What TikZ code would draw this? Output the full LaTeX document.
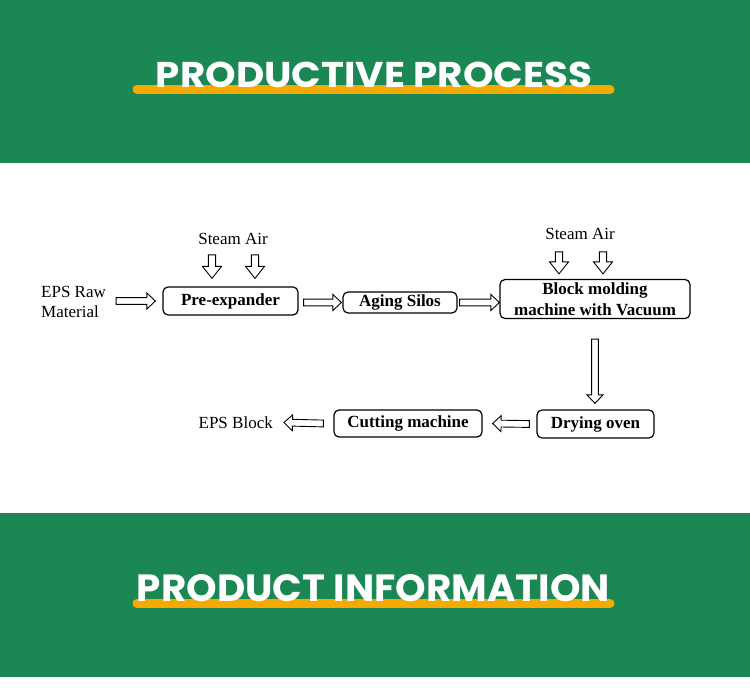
\documentclass[tikz,border=0pt]{standalone}
\usepackage{fontspec}
\setmainfont{Liberation Serif}
\newfontfamily\titlefont{Poppins}
\usetikzlibrary{calc}
\definecolor{bandgreen}{HTML}{1B8755}
\definecolor{barorange}{HTML}{F6AA00}
\tikzset{
  hollow/.style n args={3}{line width=0.9pt, line join=miter, to path={
    let \p1=(\tikztostart), \p2=(\tikztotarget),
        \n1={veclen(\x2-\x1,\y2-\y1)},
        \n2={(\x2-\x1)/\n1}, \n3={(\y2-\y1)/\n1}
    in
    ({\x1-\n3*#1}, {\y1+\n2*#1})
    -- ({\x2-\n2*#3-\n3*#1}, {\y2-\n3*#3+\n2*#1})
    -- ({\x2-\n2*#3-\n3*#2}, {\y2-\n3*#3+\n2*#2})
    -- (\p2)
    -- ({\x2-\n2*#3+\n3*#2}, {\y2-\n3*#3-\n2*#2})
    -- ({\x2-\n2*#3+\n3*#1}, {\y2-\n3*#3-\n2*#1})
    -- ({\x1+\n3*#1}, {\y1-\n2*#1})
    -- cycle
  }},
  flowarr/.style={hollow={3.4pt}{8pt}{8.5pt}},
  steamarr/.style={hollow={3.6pt}{9.5pt}{12pt}},
  stepbox/.style={draw, line width=1.2pt, rounded corners=5pt, inner sep=0pt,
    font=\fontsize{17}{21}\selectfont\bfseries, align=center},
  plain/.style={inner sep=0pt, font=\fontsize{17}{20}\selectfont},
  titletext/.style={inner sep=0pt, text=white},
  bar/.style={line width=9pt, line cap=round, draw=barorange}
}
\begin{document}
\begin{tikzpicture}[x=1pt,y=-1pt]
\useasboundingbox (0,0) rectangle (750,700);
\fill[white] (0,0) rectangle (750,700);
\fill[bandgreen] (0,0) rectangle (750,163);
\fill[bandgreen] (0,513) rectangle (750,677);

% titles
\draw[bar] (137,89.5) -- (610,89.5);
\node[titletext] (t1) at (374,74.5) {\resizebox{436pt}{25.5pt}{\titlefont\bfseries PRODUCTIVE PROCESS}};
\draw[bar] (137,603.5) -- (610,603.5);
\node[titletext] (t2) at (373.5,588.5) {\resizebox{473pt}{27pt}{\titlefont\bfseries PRODUCT INFORMATION}};

% nodes
\node[plain, align=left, anchor=west] (raw) at (41,302) {EPS Raw\\Material};
\node[stepbox, minimum width=135pt, minimum height=28pt] (pre) at (230.5,301) {Pre-expander};
\node[stepbox, minimum width=114pt, minimum height=21pt] (silos) at (400,302.5) {Aging Silos};
\node[stepbox, minimum width=190pt, minimum height=39pt] (block) at (595,299) {Block molding\\machine with Vacuum};
\node[stepbox, minimum width=117pt, minimum height=28pt] (dry) at (595.5,424) {Drying oven};
\node[stepbox, minimum width=148pt, minimum height=27pt] (cut) at (408,423.5) {Cutting machine};
\node[plain, anchor=east] (epsblock) at (273,422.5) {EPS Block};
\node[plain] (steam1) at (233,239) {Steam Air};
\node[plain] (steam2) at (580,234) {Steam Air};

% flow arrows
\draw[flowarr] ([xshift=10pt]raw.east |- pre.west) to ([xshift=-7pt]pre.west);
\draw[flowarr] ([xshift=5pt]pre.east |- silos.west) to ([xshift=-1pt]silos.west);
\draw[flowarr] ([xshift=2pt]silos.east) to ([xshift=0pt]silos.east -| block.west);
\draw[flowarr] ([yshift=-20pt]block.south) to ([yshift=6pt]block.south |- dry.north);
\draw[flowarr] ([xshift=-7pt]dry.west) to ([xshift=10pt]cut.east);
\draw[flowarr] ([xshift=-10pt]cut.west) to ([xshift=11pt]epsblock.east);

% steam arrows
\draw[steamarr] ([xshift=-21pt,yshift=-10pt]steam1.south) to ([xshift=-21pt,yshift=8pt]steam1.south |- pre.north);
\draw[steamarr] ([xshift=22pt,yshift=-10pt]steam1.south) to ([xshift=22pt,yshift=8pt]steam1.south |- pre.north);
\draw[steamarr] ([xshift=-21pt,yshift=-12pt]steam2.south) to ([xshift=-21pt,yshift=5pt]steam2.south |- block.north);
\draw[steamarr] ([xshift=23pt,yshift=-12pt]steam2.south) to ([xshift=23pt,yshift=5pt]steam2.south |- block.north);
\end{tikzpicture}
\end{document}
